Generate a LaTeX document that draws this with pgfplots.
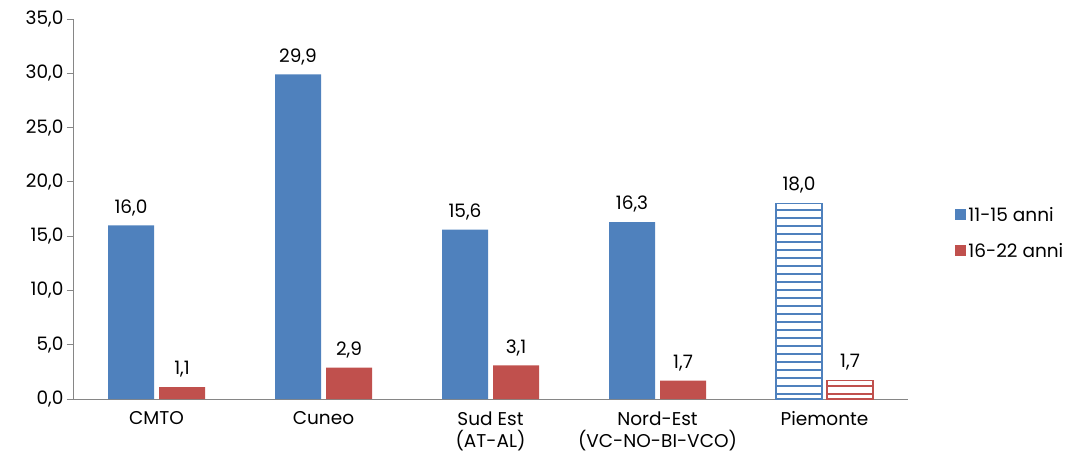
\documentclass[border=0pt]{standalone}
\usepackage{pgfplots}
\pgfplotsset{compat=1.18}
\usetikzlibrary{patterns.meta}
\usepackage{fontspec}
\setmainfont{Poppins}
\definecolor{cblue}{HTML}{4F81BD}
\definecolor{cred}{HTML}{C0504D}
\definecolor{axgray}{HTML}{868686}
\pgfkeys{/pgf/number format/.cd, fixed, fixed zerofill, precision=1, use comma, assume math mode=true}
\begin{document}
\begin{tikzpicture}[font=\fontsize{18.5}{22}\selectfont]
\begin{axis}[
  at={(73pt,67pt)}, anchor=south west,
  scale only axis, width=835pt, height=380pt,
  xmin=-0.5, xmax=4.5, ymin=0, ymax=35,
  ybar, bar width=46pt,
  axis lines*=left,
  axis line style={axgray, line width=0.8pt},
  xtick={0,1,2,3,4},
  xticklabels={CMTO, Cuneo, {Sud Est\\(AT-AL)}, {Nord-Est\\(VC-NO-BI-VCO)}, Piemonte},
  xticklabel style={align=center, text depth=0pt, yshift=-3pt},
  major x tick style={draw=none},
  extra x ticks={-0.5,0.5,1.5,2.5,3.5,4.5},
  extra x tick labels={},
  extra x tick style={major tick length=6pt, tick align=outside, major tick style={axgray, line width=0.8pt}},
  ytick={0,5,...,35},
  tick align=outside, major tick length=6pt,
  tick style={axgray, line width=0.8pt},
  nodes near coords,
  every node near coord/.append style={black, yshift=6pt},
  legend style={at={(1.053,0.437)}, anchor=west, draw=none, fill=none,
    row sep=16pt, cells={anchor=west}, font=\fontsize{18.5}{22}\selectfont},
  legend image code/.code={\fill[#1] (-4pt,-5pt) rectangle (7pt,6pt);},
]
\addplot[fill=cblue, draw=none, bar shift=-25.5pt] coordinates {(0,16.0) (1,29.9) (2,15.6) (3,16.3)};
\addplot[fill=cred, draw=none, bar shift=25.5pt] coordinates {(0,1.1) (1,2.9) (2,3.1) (3,1.7)};
\addplot[forget plot, draw=cblue, line width=1.2pt, pattern={Lines[distance=8pt, angle=0, line width=2pt]}, pattern color=cblue, bar shift=-25.5pt] coordinates {(4,18.0)};
\addplot[forget plot, draw=cred, line width=1.2pt, pattern={Lines[distance=8pt, angle=0, line width=2pt]}, pattern color=cred, bar shift=25.5pt] coordinates {(4,1.7)};
\legend{11-15 anni, 16-22 anni}
\end{axis}
\pgfresetboundingbox
\useasboundingbox (0,0) rectangle (1067pt,466pt);
\end{tikzpicture}
\end{document}
